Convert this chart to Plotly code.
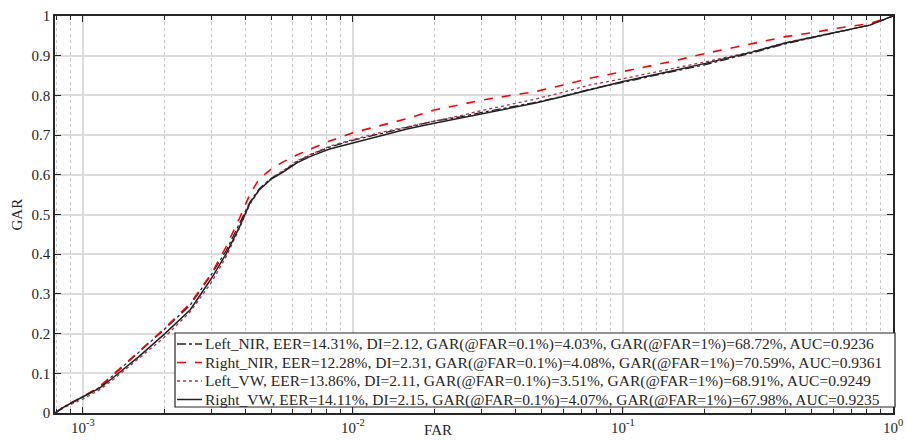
import plotly.graph_objects as go

far = [7.9e-4, 8.5e-4, 1e-3, 1.15e-3, 1.3e-3, 1.6e-3, 2e-3, 2.5e-3, 3e-3, 3.4e-3, 3.8e-3,
       4.15e-3, 4.5e-3, 5.0e-3, 5.5e-3, 6.2e-3, 7e-3, 8.2e-3, 1e-2, 1.33e-2, 1.6e-2, 2e-2,
       2.5e-2, 3e-2, 4e-2, 4.7e-2, 6e-2, 7.5e-2, 0.1, 0.15, 0.2, 0.3, 0.4, 0.5, 0.62, 0.82, 1.0]

gar_left_nir = [0, 0.016, 0.040, 0.064, 0.096, 0.150, 0.210, 0.272, 0.350, 0.410, 0.475,
                0.530, 0.565, 0.592, 0.608, 0.633, 0.651, 0.670, 0.687, 0.708, 0.720, 0.735,
                0.746, 0.757, 0.772, 0.782, 0.798, 0.815, 0.833, 0.859, 0.877, 0.907, 0.930,
                0.945, 0.959, 0.977, 1.0]
gar_right_nir = [0, 0.016, 0.041, 0.066, 0.098, 0.152, 0.212, 0.276, 0.352, 0.420, 0.490,
                 0.550, 0.590, 0.615, 0.632, 0.650, 0.665, 0.685, 0.706, 0.727, 0.742, 0.763,
                 0.777, 0.788, 0.802, 0.809, 0.826, 0.843, 0.860, 0.885, 0.905, 0.930, 0.948,
                 0.958, 0.969, 0.981, 1.0]
gar_left_vw = [0, 0.013, 0.035, 0.058, 0.085, 0.135, 0.190, 0.255, 0.330, 0.395, 0.465,
               0.525, 0.562, 0.592, 0.610, 0.635, 0.652, 0.672, 0.689, 0.710, 0.722, 0.735,
               0.749, 0.762, 0.780, 0.790, 0.808, 0.826, 0.842, 0.866, 0.884, 0.910, 0.933,
               0.947, 0.960, 0.977, 1.0]
gar_right_vw = [0, 0.015, 0.041, 0.062, 0.090, 0.140, 0.198, 0.260, 0.340, 0.402, 0.468,
                0.528, 0.562, 0.590, 0.606, 0.630, 0.647, 0.665, 0.680, 0.703, 0.716, 0.730,
                0.743, 0.755, 0.771, 0.780, 0.797, 0.814, 0.835, 0.861, 0.880, 0.909, 0.932,
                0.946, 0.960, 0.977, 1.0]

names = [
    "Left_NIR, EER=14.31%, DI=2.12, GAR(@FAR=0.1%)=4.03%, GAR(@FAR=1%)=68.72%, AUC=0.9236",
    "Right_NIR, EER=12.28%, DI=2.31, GAR(@FAR=0.1%)=4.08%, GAR(@FAR=1%)=70.59%, AUC=0.9361",
    "Left_VW, EER=13.86%, DI=2.11, GAR(@FAR=0.1%)=3.51%, GAR(@FAR=1%)=68.91%, AUC=0.9249",
    "Right_VW, EER=14.11%, DI=2.15, GAR(@FAR=0.1%)=4.07%, GAR(@FAR=1%)=67.98%, AUC=0.9235",
]
x_ticks = [1e-3, 1e-2, 1e-1, 1]
x_tick_text = ["10<sup>-3</sup>", "10<sup>-2</sup>", "10<sup>-1</sup>", "10<sup>0</sup>"]
y_ticks = [0, 0.1, 0.2, 0.3, 0.4, 0.5, 0.6, 0.7, 0.8, 0.9, 1]
y_tick_text = ["0", "0.1", "0.2", "0.3", "0.4", "0.5", "0.6", "0.7", "0.8", "0.9", "1"]

series = [gar_left_nir, gar_right_nir, gar_left_vw, gar_right_vw]
styles = [
    dict(color="#222222", dash="dashdot", width=1.3),
    dict(color="#ff0000", dash="dash", width=1.6),
    dict(color="#b03050", dash="dot", width=1.3),
    dict(color="#222222", dash="solid", width=1.5),
]

W, H = 907, 441
ML, MR, MT, MB = 55, 14, 16, 28
PW, PH = W - ML - MR, H - MT - MB


def px(xp):
    return (xp - ML) / PW


def py(yp):
    return (H - MB - yp) / PH


fig = go.Figure()
for n, g, s in zip(names, series, styles):
    fig.add_trace(go.Scatter(x=far, y=g, mode="lines", name=n, line=s, showlegend=False))

font = "Liberation Serif, Times New Roman, serif"
txt = "#262626"

# manual legend box (MATLAB-like compact legend)
shapes = [dict(type="rect", xref="paper", yref="paper", x0=px(175), x1=px(895),
               y0=py(407), y1=py(333), fillcolor="white",
               line=dict(color=txt, width=1.2), layer="above")]
annotations = []
row_y = [344, 362.5, 381, 399.5]
for n, s, ry in zip(names, styles, row_y):
    shapes.append(dict(type="line", xref="paper", yref="paper", x0=px(177), x1=px(202),
                       y0=py(ry), y1=py(ry), line=s, layer="above"))
    annotations.append(dict(text=n, x=px(203), y=py(ry), xref="paper", yref="paper",
                            xanchor="left", yanchor="middle", showarrow=False,
                            font=dict(family=font, size=15.5, color=txt)))

annotations += [
    dict(text="FAR", x=px(438), y=py(440), xref="paper", yref="paper",
         xanchor="center", yanchor="bottom", showarrow=False,
         font=dict(family=font, size=15, color=txt)),
    dict(text="GAR", x=px(26), y=0.5, xref="paper", yref="paper",
         xanchor="right", yanchor="middle", textangle=-90, showarrow=False,
         font=dict(family=font, size=15, color=txt)),
]

fig.update_layout(
    width=W, height=H,
    margin=dict(l=ML, r=MR, t=MT, b=MB, autoexpand=False),
    paper_bgcolor="white", plot_bgcolor="white",
    font=dict(family=font, size=15, color=txt),
    showlegend=False,
    xaxis=dict(type="log", range=[-3.103, 0], tickvals=x_ticks, ticktext=x_tick_text,
               automargin=False,
               ticks="inside", ticklen=6, tickcolor=txt, showline=True,
               linecolor=txt, linewidth=1.5, mirror="ticks",
               showgrid=True, gridcolor="#dcdcdc", gridwidth=1.5, zeroline=False,
               minor=dict(dtick="D1", ticks="inside", ticklen=4, tickcolor=txt,
                          showgrid=True, gridcolor="#c8c8c8", griddash="dot", gridwidth=1),
               tickfont=dict(size=15)),
    yaxis=dict(range=[0, 1], tickvals=y_ticks, ticktext=y_tick_text, automargin=False,
               ticks="inside", ticklen=6, tickcolor=txt, showline=True,
               linecolor=txt, linewidth=1.5, mirror="ticks",
               showgrid=True, gridcolor="#dcdcdc", gridwidth=1.5, zeroline=False,
               tickfont=dict(size=15)),
    shapes=shapes,
    annotations=annotations,
)
fig.write_html("out.html",
               config={"displayModeBar": False, "responsive": False},
               post_script="document.body.style.margin='0px';document.body.style.overflow='hidden';")
